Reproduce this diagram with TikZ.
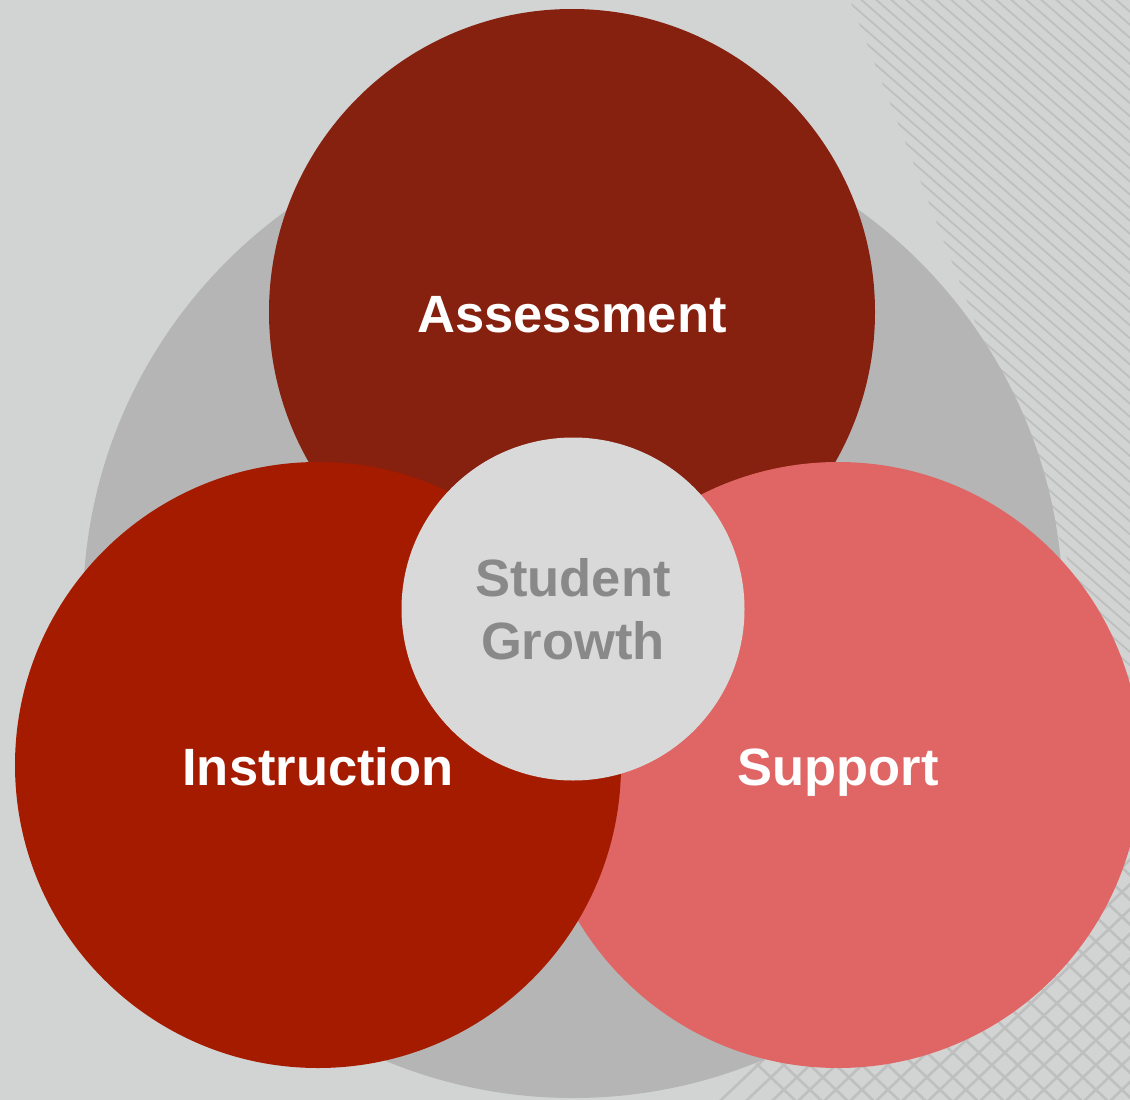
\documentclass[tikz,border=0pt]{standalone}
\usepackage{fontspec}
\setmainfont{Liberation Sans}
\begin{document}
\begin{tikzpicture}[x=1pt,y=-1pt,
  bigc/.style={circle,inner sep=0pt,minimum size=606pt,text=white,
    text height=40pt,text depth=0pt,
    font=\bfseries\fontsize{52.5}{63}\selectfont},
  stripe/.style={draw=stripec,line width=1.8pt},
  hatch/.style={draw=stripec,line width=2.6pt}]
\definecolor{bgc}{HTML}{D2D4D3}
\definecolor{stripec}{HTML}{BEC0BF}
\definecolor{ringc}{HTML}{B5B5B5}
\definecolor{assc}{HTML}{86200F}
\definecolor{insc}{HTML}{A51B00}
\definecolor{supc}{HTML}{E06666}
\definecolor{cenc}{HTML}{D9D9D9}
\definecolor{ctext}{HTML}{898989}
\useasboundingbox (0,0) rectangle (1130,1100);
\fill[bgc] (0,0) rectangle (1130,1100);
% faint diagonal stripes, top right
\begin{scope}
  \clip (850,0) -- (1130,0) -- (1130,720) -- cycle;
  \foreach \s in {-600,-585,...,400} {
    \draw[stripe] (850+\s,-10) -- ++(900,784);
  }
\end{scope}
% faint cross-hatch, bottom right
\begin{scope}
  \clip (700,1100) -- (1130,820) -- (1130,1100) -- cycle;
  \foreach \s in {0,26,...,700} {
    \draw[hatch] (500+\s,820) -- ++(400,380);
    \draw[hatch] (700+\s,1120) -- ++(400,-380);
  }
\end{scope}
% large grey ring
\node[circle,fill=ringc,inner sep=0pt,minimum size=980pt] (ring) at (573,608) {};
% three circles
\node[bigc,fill=assc] (ass) at (572,312) {Assessment};
\node[bigc,fill=supc] (sup) at (838,765) {Support};
\node[bigc,fill=insc] (ins) at (318,765) {Instruction};
% centre circle
\node[circle,fill=cenc,inner sep=0pt,minimum size=343pt,text=ctext,align=center,
  font=\bfseries\fontsize{52.5}{63}\selectfont] (cen) at (573,609) {Student\\Growth};
\end{tikzpicture}
\end{document}
